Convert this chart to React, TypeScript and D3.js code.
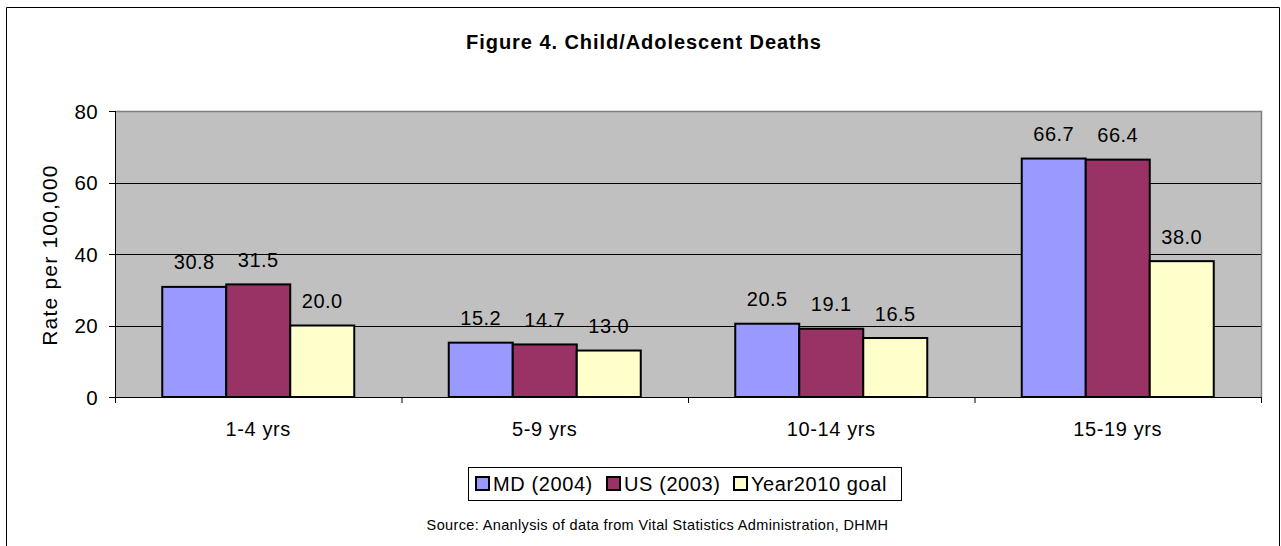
import React from "react";
import * as d3 from "d3";

const categories = ["1-4 yrs", "5-9 yrs", "10-14 yrs", "15-19 yrs"];
const seriesNames = ["MD (2004)", "US (2003)", "Year2010 goal"];
const mdValues = [30.8, 15.2, 20.5, 66.7];
const usValues = [31.5, 14.7, 19.1, 66.4];
const goalValues = [20.0, 13.0, 16.5, 38.0];
const seriesColors = ["#9999FF", "#993366", "#FFFFCC"];
const yTicks = [0, 20, 40, 60, 80];

const W = 1281;
const H = 546;
const plot = { left: 115, right: 1261, top: 111, bottom: 397 };
const FONT = "Liberation Sans, Arial, sans-serif";

export default function App() {
  const series = [mdValues, usValues, goalValues];
  const x = d3.scaleBand<string>().domain(categories).range([plot.left, plot.right]).paddingInner(0).paddingOuter(0);
  const y = d3.scaleLinear().domain([0, 80]).range([plot.bottom, plot.top]);
  const barW = 64;
  const groupW = barW * 3;
  const legendX = [475, 606, 733];

  return (
    <svg width={W} height={H} style={{ position: "absolute", left: 0, top: 0 }} fontFamily={FONT}>
      <rect x={0} y={0} width={W} height={H} fill="#fff" />
      <path d={`M6.5,${H} V7.5 H1279.5 V${H}`} fill="none" stroke="#000" strokeWidth={1} />
      <text x={644} y={49} textAnchor="middle" fontWeight="bold" fontSize={20} letterSpacing={0.95}>
        Figure 4. Child/Adolescent Deaths
      </text>
      <rect x={plot.left} y={plot.top} width={plot.right - plot.left} height={plot.bottom - plot.top} fill="#C0C0C0" />
      <path d={`M${plot.left},${plot.top + 0.5} H${plot.right + 0.5} V${plot.bottom}`} fill="none" stroke="#808080" strokeWidth={1.5} />
      {yTicks.filter((t) => t > 0 && t < 80).map((t) => (
        <line key={t} x1={plot.left} x2={plot.right} y1={Math.round(y(t)) + 0.5} y2={Math.round(y(t)) + 0.5} stroke="#000" strokeWidth={1} />
      ))}
      {categories.map((c, i) => {
        const x0 = (x(c) as number) + x.bandwidth() / 2 - groupW / 2;
        return series.map((s, j) => {
          const bx = x0 + j * barW;
          const by = y(s[i]);
          return (
            <g key={`${c}-${j}`}>
              <rect x={bx} y={by} width={barW} height={plot.bottom - by} fill={seriesColors[j]} stroke="#000" strokeWidth={2} />
              <text x={bx + barW / 2} y={by - 17.5} textAnchor="middle" fontSize={20} letterSpacing={0.5}>
                {s[i].toFixed(1)}
              </text>
            </g>
          );
        });
      })}
      <line x1={plot.left + 0.5} x2={plot.left + 0.5} y1={plot.top} y2={plot.bottom + 6} stroke="#000" strokeWidth={1} />
      <line x1={plot.left} x2={plot.right} y1={plot.bottom + 0.5} y2={plot.bottom + 0.5} stroke="#000" strokeWidth={1} />
      {yTicks.map((t) => (
        <g key={t}>
          <line x1={109} x2={plot.left} y1={Math.round(y(t)) + 0.5} y2={Math.round(y(t)) + 0.5} stroke="#000" />
          <text x={98} y={y(t) + 7.5} textAnchor="end" fontSize={20.5} letterSpacing={0.4}>
            {t}
          </text>
        </g>
      ))}
      {categories.map((c) => (
        <g key={c}>
          <line x1={(x(c) as number) + 0.5} x2={(x(c) as number) + 0.5} y1={plot.bottom} y2={plot.bottom + 6} stroke="#000" />
          <text x={(x(c) as number) + x.bandwidth() / 2} y={436} textAnchor="middle" fontSize={20} letterSpacing={0.6}>
            {c}
          </text>
        </g>
      ))}
      <line x1={plot.right + 0.5} x2={plot.right + 0.5} y1={plot.bottom} y2={plot.bottom + 6} stroke="#000" />
      <text transform={`translate(57,255) rotate(-90)`} textAnchor="middle" fontSize={21} letterSpacing={1.2}>
        Rate per 100,000
      </text>
      <rect x={468.5} y={467.5} width={433} height={33} fill="#fff" stroke="#000" strokeWidth={1} />
      {seriesNames.map((name, j) => (
        <g key={name}>
          <rect x={legendX[j] + 1} y={477} width={13} height={13} fill={seriesColors[j]} stroke="#000" strokeWidth={2} />
          <text x={legendX[j] + 18} y={491} fontSize={20} letterSpacing={0.6}>
            {name}
          </text>
        </g>
      ))}
      <text x={657.5} y={530} textAnchor="middle" fontSize={14.5} letterSpacing={0.36}>
        Source: Ananlysis of data from Vital Statistics Administration, DHMH
      </text>
    </svg>
  );
}
